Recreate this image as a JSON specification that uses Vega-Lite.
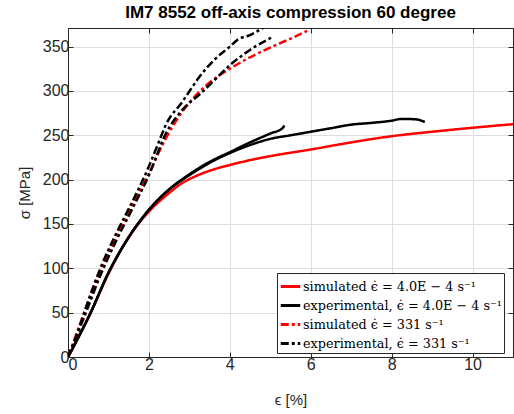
{
  "$schema": "https://vega.github.io/schema/vega-lite/v6.json",
  "width": 445,
  "height": 329,
  "autosize": {"type": "none"},
  "padding": {"left": 68, "top": 28, "right": 1, "bottom": 57},
  "title": {"text": "IM7 8552 off-axis compression 60 degree", "font": "Liberation Sans", "fontSize": 17, "fontWeight": "bold", "color": "black", "offset": 6, "anchor": "middle"},
  "config": {
    "view": {"stroke": "#262626", "strokeWidth": 1},
    "axis": {"labelFont": "Liberation Sans", "titleFont": "Liberation Sans", "labelFontSize": 16, "titleFontSize": 15, "titleFontWeight": "normal", "labelColor": "#262626", "titleColor": "#262626", "domainColor": "#262626", "tickColor": "#262626", "gridColor": "#dedede", "gridWidth": 1}
  },
  "resolve": {"axis": {"x": "independent", "y": "independent"}},
  "layer": [
    {
      "data": {"values": [
        {"series": "s1", "curve": "r1", "x": 0, "y": 0},
        {"series": "s1", "curve": "r1", "x": 0.56, "y": 50},
        {"series": "s1", "curve": "r1", "x": 1.0, "y": 94},
        {"series": "s1", "curve": "r1", "x": 1.5, "y": 135},
        {"series": "s1", "curve": "r1", "x": 2.0, "y": 164},
        {"series": "s1", "curve": "r1", "x": 2.5, "y": 185},
        {"series": "s1", "curve": "r1", "x": 2.75, "y": 194},
        {"series": "s1", "curve": "r1", "x": 3.16, "y": 204},
        {"series": "s1", "curve": "r1", "x": 3.5, "y": 210},
        {"series": "s1", "curve": "r1", "x": 4.0, "y": 216.5},
        {"series": "s1", "curve": "r1", "x": 4.5, "y": 222},
        {"series": "s1", "curve": "r1", "x": 5.0, "y": 226.5},
        {"series": "s1", "curve": "r1", "x": 6.0, "y": 234},
        {"series": "s1", "curve": "r1", "x": 7.0, "y": 242},
        {"series": "s1", "curve": "r1", "x": 8.0, "y": 249},
        {"series": "s1", "curve": "r1", "x": 9.0, "y": 254},
        {"series": "s1", "curve": "r1", "x": 10.0, "y": 258.5},
        {"series": "s1", "curve": "r1", "x": 11.0, "y": 262.5},

        {"series": "s2", "curve": "e1", "x": 0, "y": 0},
        {"series": "s2", "curve": "e1", "x": 0.56, "y": 50},
        {"series": "s2", "curve": "e1", "x": 1.0, "y": 95},
        {"series": "s2", "curve": "e1", "x": 1.5, "y": 135},
        {"series": "s2", "curve": "e1", "x": 2.0, "y": 166},
        {"series": "s2", "curve": "e1", "x": 2.5, "y": 189},
        {"series": "s2", "curve": "e1", "x": 3.0, "y": 206},
        {"series": "s2", "curve": "e1", "x": 3.5, "y": 220},
        {"series": "s2", "curve": "e1", "x": 4.0, "y": 231},
        {"series": "s2", "curve": "e1", "x": 4.5, "y": 242},
        {"series": "s2", "curve": "e1", "x": 5.0, "y": 252},
        {"series": "s2", "curve": "e1", "x": 5.3, "y": 258},
        {"series": "s2", "curve": "e1", "x": 5.35, "y": 261},

        {"series": "s2", "curve": "e2", "x": 0, "y": 0},
        {"series": "s2", "curve": "e2", "x": 0.56, "y": 50},
        {"series": "s2", "curve": "e2", "x": 1.0, "y": 95},
        {"series": "s2", "curve": "e2", "x": 1.5, "y": 135},
        {"series": "s2", "curve": "e2", "x": 2.0, "y": 166},
        {"series": "s2", "curve": "e2", "x": 2.5, "y": 189},
        {"series": "s2", "curve": "e2", "x": 3.0, "y": 205},
        {"series": "s2", "curve": "e2", "x": 3.5, "y": 219},
        {"series": "s2", "curve": "e2", "x": 4.0, "y": 230},
        {"series": "s2", "curve": "e2", "x": 4.5, "y": 239},
        {"series": "s2", "curve": "e2", "x": 5.0, "y": 246},
        {"series": "s2", "curve": "e2", "x": 5.5, "y": 250},
        {"series": "s2", "curve": "e2", "x": 6.0, "y": 254},
        {"series": "s2", "curve": "e2", "x": 6.5, "y": 258},
        {"series": "s2", "curve": "e2", "x": 7.0, "y": 262},
        {"series": "s2", "curve": "e2", "x": 7.5, "y": 264},
        {"series": "s2", "curve": "e2", "x": 8.0, "y": 266.5},
        {"series": "s2", "curve": "e2", "x": 8.25, "y": 268.5},
        {"series": "s2", "curve": "e2", "x": 8.6, "y": 268},
        {"series": "s2", "curve": "e2", "x": 8.82, "y": 265},

        {"series": "s3", "curve": "r2", "x": 0, "y": 0},
        {"series": "s3", "curve": "r2", "x": 0.4, "y": 50},
        {"series": "s3", "curve": "r2", "x": 0.8, "y": 97},
        {"series": "s3", "curve": "r2", "x": 1.2, "y": 137},
        {"series": "s3", "curve": "r2", "x": 1.6, "y": 172},
        {"series": "s3", "curve": "r2", "x": 2.0, "y": 207},
        {"series": "s3", "curve": "r2", "x": 2.4, "y": 245},
        {"series": "s3", "curve": "r2", "x": 2.8, "y": 275},
        {"series": "s3", "curve": "r2", "x": 3.2, "y": 297},
        {"series": "s3", "curve": "r2", "x": 3.6, "y": 313},
        {"series": "s3", "curve": "r2", "x": 4.0, "y": 325},
        {"series": "s3", "curve": "r2", "x": 4.5, "y": 338},
        {"series": "s3", "curve": "r2", "x": 5.0, "y": 349},
        {"series": "s3", "curve": "r2", "x": 5.5, "y": 359},
        {"series": "s3", "curve": "r2", "x": 5.97, "y": 369},

        {"series": "s4", "curve": "e3", "x": 0, "y": 0},
        {"series": "s4", "curve": "e3", "x": 0.2, "y": 22},
        {"series": "s4", "curve": "e3", "x": 0.4, "y": 50},
        {"series": "s4", "curve": "e3", "x": 0.8, "y": 100},
        {"series": "s4", "curve": "e3", "x": 1.2, "y": 140},
        {"series": "s4", "curve": "e3", "x": 1.6, "y": 176},
        {"series": "s4", "curve": "e3", "x": 2.0, "y": 215},
        {"series": "s4", "curve": "e3", "x": 2.25, "y": 243},
        {"series": "s4", "curve": "e3", "x": 2.42, "y": 262},
        {"series": "s4", "curve": "e3", "x": 2.83, "y": 288},
        {"series": "s4", "curve": "e3", "x": 3.08, "y": 305},
        {"series": "s4", "curve": "e3", "x": 3.25, "y": 316},
        {"series": "s4", "curve": "e3", "x": 3.66, "y": 337},
        {"series": "s4", "curve": "e3", "x": 4.0, "y": 350},
        {"series": "s4", "curve": "e3", "x": 4.2, "y": 358},
        {"series": "s4", "curve": "e3", "x": 4.5, "y": 363},
        {"series": "s4", "curve": "e3", "x": 4.85, "y": 372},

        {"series": "s4", "curve": "e4", "x": 0, "y": 0},
        {"series": "s4", "curve": "e4", "x": 0.4, "y": 45},
        {"series": "s4", "curve": "e4", "x": 0.8, "y": 92},
        {"series": "s4", "curve": "e4", "x": 1.2, "y": 132},
        {"series": "s4", "curve": "e4", "x": 1.6, "y": 168},
        {"series": "s4", "curve": "e4", "x": 2.0, "y": 205},
        {"series": "s4", "curve": "e4", "x": 2.42, "y": 252},
        {"series": "s4", "curve": "e4", "x": 2.83, "y": 279},
        {"series": "s4", "curve": "e4", "x": 3.25, "y": 296},
        {"series": "s4", "curve": "e4", "x": 3.66, "y": 314},
        {"series": "s4", "curve": "e4", "x": 4.0, "y": 329},
        {"series": "s4", "curve": "e4", "x": 4.49, "y": 346},
        {"series": "s4", "curve": "e4", "x": 5.02, "y": 360}
      ]},
      "mark": {"type": "line", "strokeWidth": 2.5, "clip": true, "interpolate": "monotone"},
      "encoding": {
        "x": {"field": "x", "type": "quantitative", "scale": {"domain": [0, 11], "nice": false, "zero": false},
              "axis": {"title": "ϵ [%]", "values": [0, 2, 4, 6, 8, 10], "grid": true, "tickSize": -5, "labelPadding": 4, "titlePadding": 20, "domain": true}},
        "y": {"field": "y", "type": "quantitative", "scale": {"domain": [0, 371], "nice": false, "zero": false},
              "axis": {"title": "σ [MPa]", "values": [0, 50, 100, 150, 200, 250, 300, 350], "grid": true, "tickSize": -5, "labelPadding": 4, "titlePadding": 10, "domain": true}},
        "color": {"field": "series", "type": "nominal",
                  "scale": {"domain": ["s1", "s2", "s3", "s4"], "range": ["#ff0000", "#000000", "#ff0000", "#000000"]},
                  "legend": {"title": null, "orient": "none", "legendX": 209, "legendY": 245, "fillColor": "white", "strokeColor": "#262626", "padding": 2, "cornerRadius": 0,
                             "labelFont": "DejaVu Serif", "labelFontSize": 12.8, "labelColor": "black", "labelOffset": 1, "rowPadding": 0,
                             "symbolType": "stroke", "symbolStrokeWidth": 3, "symbolSize": 380, "labelLimit": 400,
                             "labelExpr": "datum.label == 's1' ? 'simulated ϵ̇ = 4.0E − 4 s⁻¹' : datum.label == 's2' ? 'experimental, ϵ̇ = 4.0E − 4 s⁻¹' : datum.label == 's3' ? 'simulated ϵ̇ = 331 s⁻¹' : 'experimental, ϵ̇ = 331 s⁻¹'"}},
        "strokeDash": {"field": "series", "type": "nominal",
                       "scale": {"domain": ["s1", "s2", "s3", "s4"], "range": [[1, 0], [1, 0], [8, 3, 3, 3], [8, 3, 3, 3]]},
                       "legend": {"title": null, "orient": "none", "legendX": 209, "legendY": 245, "fillColor": "white", "strokeColor": "#262626", "padding": 2, "cornerRadius": 0,
                             "labelFont": "DejaVu Serif", "labelFontSize": 12.8, "labelColor": "black", "labelOffset": 1, "rowPadding": 0,
                             "symbolType": "stroke", "symbolStrokeWidth": 3, "symbolSize": 380, "labelLimit": 400,
                             "labelExpr": "datum.label == 's1' ? 'simulated ϵ̇ = 4.0E − 4 s⁻¹' : datum.label == 's2' ? 'experimental, ϵ̇ = 4.0E − 4 s⁻¹' : datum.label == 's3' ? 'simulated ϵ̇ = 331 s⁻¹' : 'experimental, ϵ̇ = 331 s⁻¹'"}},
        "detail": {"field": "curve", "type": "nominal"}
      }
    },
    {
      "data": {"values": [{"x": 0, "y": 0}]},
      "mark": {"type": "point", "opacity": 0},
      "encoding": {
        "x": {"field": "x", "type": "quantitative", "axis": {"orient": "top", "title": null, "labels": false, "grid": false, "values": [0, 2, 4, 6, 8, 10], "tickSize": -5, "domain": true}},
        "y": {"field": "y", "type": "quantitative", "axis": {"orient": "right", "title": null, "labels": false, "grid": false, "values": [0, 50, 100, 150, 200, 250, 300, 350], "tickSize": -5, "domain": true}}
      }
    }
  ]
}
